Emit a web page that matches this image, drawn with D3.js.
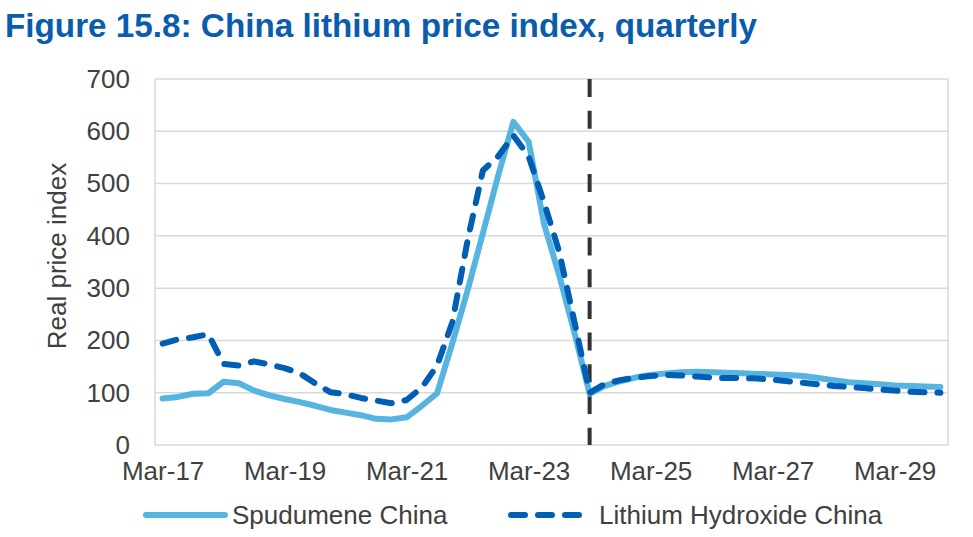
<!DOCTYPE html>
<html>
<head>
<meta charset="utf-8">
<script src="https://cdn.jsdelivr.net/npm/d3@7"></script>
<style>
  body { margin: 0; background: #fff; }
  svg text { font-family: "Liberation Sans", Arial, sans-serif; }
</style>
</head>
<body>
<svg id="chart" width="973" height="537"></svg>
<script>
// quarterly categories, Mar-17 .. Dec-29
const quarters = [
  "Mar-17","Jun-17","Sep-17","Dec-17","Mar-18","Jun-18","Sep-18","Dec-18",
  "Mar-19","Jun-19","Sep-19","Dec-19","Mar-20","Jun-20","Sep-20","Dec-20",
  "Mar-21","Jun-21","Sep-21","Dec-21","Mar-22","Jun-22","Sep-22","Dec-22",
  "Mar-23","Jun-23","Sep-23","Dec-23","Mar-24","Jun-24","Sep-24","Dec-24",
  "Mar-25","Jun-25","Sep-25","Dec-25","Mar-26","Jun-26","Sep-26","Dec-26",
  "Mar-27","Jun-27","Sep-27","Dec-27","Mar-28","Jun-28","Sep-28","Dec-28",
  "Mar-29","Jun-29","Sep-29","Dec-29"
];
const spodumene = [
  89, 92, 98, 99, 121, 118, 104, 95,
  88, 82, 75, 67, 62, 57, 50, 49,
  53, 75, 99, 195, 296, 405, 515, 618,
  580, 424, 325, 215, 98, 113, 122, 129,
  134, 137, 139, 140, 139, 138, 137, 136,
  135, 134, 132, 128, 124, 120, 118, 116,
  114, 113, 112, 111
];
const hydroxide = [
  194, 202, 206, 212, 155, 152, 160, 154,
  147, 137, 118, 101, 97, 90, 85, 80,
  86, 110, 152, 235, 392, 525, 552, 592,
  552, 465, 370, 236, 100, 117, 124, 129,
  132, 134, 133, 131, 129, 128, 128, 127,
  125, 122, 119, 116, 113, 111, 109, 106,
  104, 102, 101, 100
];
const xTickLabels = ["Mar-17","Mar-19","Mar-21","Mar-23","Mar-25","Mar-27","Mar-29"];
const yTicks = [0, 100, 200, 300, 400, 500, 600, 700];
const forecastStart = "Mar-24";
const seriesNames = ["Spudumene China", "Lithium Hydroxide China"];

const spudColor = "#56B4E0";
const hydColor = "#005EB5";
const textColor = "#404040";
const hydDash = "14 13";

const svg = d3.select("#chart");
const plot = { left: 155, right: 948, top: 79, bottom: 445 };

const x = d3.scalePoint().domain(quarters).range([plot.left, plot.right]).padding(0.5);
const y = d3.scaleLinear().domain([0, 700]).range([plot.bottom, plot.top]);

// title
svg.append("text")
  .attr("x", 5).attr("y", 37)
  .attr("textLength", 752).attr("lengthAdjust", "spacingAndGlyphs")
  .style("font-family", '"Liberation Sans Narrow", "Liberation Sans", Arial, sans-serif')
  .style("font-weight", "bold").style("font-size", "33px")
  .attr("fill", "#0A5CAD")
  .text("Figure 15.8: China lithium price index, quarterly");

// gridlines
svg.append("g").selectAll("line").data(yTicks).enter().append("line")
  .attr("x1", plot.left).attr("x2", plot.right)
  .attr("y1", d => y(d)).attr("y2", d => y(d))
  .attr("stroke", "#D9D9D9").attr("stroke-width", 1.5);

// plot frame sides
svg.append("line").attr("x1", plot.left).attr("x2", plot.left).attr("y1", plot.top).attr("y2", plot.bottom)
  .attr("stroke", "#D9D9D9").attr("stroke-width", 1.5);
svg.append("line").attr("x1", plot.right).attr("x2", plot.right).attr("y1", plot.top).attr("y2", plot.bottom)
  .attr("stroke", "#D9D9D9").attr("stroke-width", 1.5);

// y axis
const yAxis = svg.append("g")
  .attr("transform", `translate(${plot.left - 25},0)`)
  .call(d3.axisLeft(y).tickValues(yTicks).tickSize(0).tickPadding(0));
yAxis.select(".domain").remove();
yAxis.selectAll("text").attr("fill", textColor).style("font-size", "26px")
  .style("font-family", '"Liberation Sans", Arial, sans-serif');

// x axis
const xAxis = svg.append("g")
  .attr("transform", `translate(0,${plot.bottom + 17})`)
  .call(d3.axisBottom(x).tickValues(xTickLabels).tickSize(0).tickPadding(0));
xAxis.select(".domain").remove();
xAxis.selectAll("text").attr("fill", textColor).style("font-size", "26px")
  .style("font-family", '"Liberation Sans", Arial, sans-serif');

// y title
svg.append("text")
  .attr("transform", "translate(66,256) rotate(-90)")
  .attr("text-anchor", "middle")
  .attr("fill", textColor).style("font-size", "26px")
  .text("Real price index");

// forecast divider
svg.append("line")
  .attr("x1", x(forecastStart)).attr("x2", x(forecastStart))
  .attr("y1", plot.top).attr("y2", plot.bottom)
  .attr("stroke", "#333").attr("stroke-width", 4)
  .attr("stroke-dasharray", "18 13.7");

const line = d3.line().x((d, i) => x(quarters[i])).y(d => y(d));

svg.append("path").datum(spodumene)
  .attr("d", line).attr("fill", "none")
  .attr("stroke", spudColor).attr("stroke-width", 6)
  .attr("stroke-linejoin", "round").attr("stroke-linecap", "round");

svg.append("path").datum(hydroxide)
  .attr("d", line).attr("fill", "none")
  .attr("stroke", hydColor).attr("stroke-width", 6)
  .attr("stroke-linejoin", "round").attr("stroke-linecap", "round")
  .attr("stroke-dasharray", hydDash);

// legend
const legendY = 515;
const legend = [
  { name: seriesNames[0], color: spudColor, dash: null, x1: 146, x2: 225, tx: 232 },
  { name: seriesNames[1], color: hydColor, dash: hydDash, x1: 511, x2: 583, tx: 599 }
];
legend.forEach(l => {
  svg.append("line")
    .attr("x1", l.x1).attr("x2", l.x2).attr("y1", legendY).attr("y2", legendY)
    .attr("stroke", l.color).attr("stroke-width", 6).attr("stroke-linecap", "round")
    .attr("stroke-dasharray", l.dash);
  svg.append("text")
    .attr("x", l.tx).attr("y", legendY + 9)
    .attr("fill", textColor).style("font-size", "26px")
    .text(l.name);
});
</script>
</body>
</html>
